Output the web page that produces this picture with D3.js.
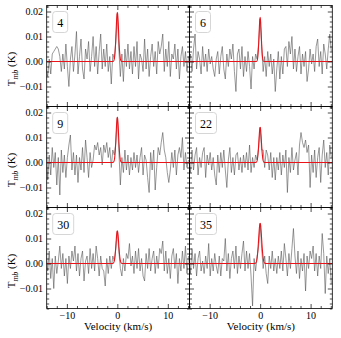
<!DOCTYPE html>
<html>
<head>
<meta charset="utf-8">
<script src="https://cdn.jsdelivr.net/npm/d3@7"></script>
<style>
  body { margin: 0; background: #fff; }
  svg text { font-family: "Liberation Serif", "Times New Roman", "DejaVu Serif", serif !important; fill: #000; }
</style>
</head>
<body>
<svg id="chart" width="341" height="338"></svg>
<script>
// panel labels (source numbers), in reading order
const panelLabels = ["4", "6", "9", "22", "30", "35"];

// gaussian fit parameters per panel (K, km/s)
const fitAmp = [0.0195, 0.0175, 0.018, 0.014, 0.013, 0.016];
const fitCenter = [0, 0, 0, 0, 0, 0];
const fitSigma = [0.25, 0.22, 0.25, 0.25, 0.27, 0.3];

// channel grid of the spectra (km/s)
const vStart = -14.1, vStep = 0.3;

// spectra in mK, 95 channels each (19 per row)
const spec4 = [
  -3, -6, 1, -5, 3, 4, 5, 6, 5, 2, -4, 3, -3, 7, -2, -10, 1, 6, -4,
  3, 12, -5, 2, 9, -3, -7, 5, 1, 8, -4, 2, 10, -2, 6, -5, 4, 11, -3,
  5, -2, 7, -4, 2, -9, 3, 1, 8, 19, 5, -6, 3, -8, 5, -2, 7, -3, 4,
  -5, 6, -2, 8, -7, 3, 1, -4, 9, -3, 5, -6, 2, 7, -2, 4, -5, 8, 3,
  6, 11, -4, 5, -2, 8, -6, 3, 1, 7, -3, 5, -7, 2, 6, -2, 4, -4, 2
];
const spec6 = [
  -2, 3, -4, 5, 11, -3, 4, 1, -5, 6, -2, 3, -4, 5, -1, 2, -3, -6, 1,
  4, -5, 2, 6, -3, -7, 3, -2, 5, 1, 7, -4, -12, 3, 5, -3, 6, -6, 2,
  -4, 4, -2, -11, 2, -3, 3, 1, 7, 17, 6, -4, 2, -6, 4, -2, 3, -5, 1,
  -12, -3, 4, -7, 2, -5, 5, 6, -2, 8, 3, 10, -3, 5, -4, 2, 6, -5, 3,
  -2, 4, -8, -3, 5, -1, 3, -4, 6, 9, -2, 4, -5, 7, 3, -3, 5, 11, 4
];
const spec9 = [
  9, -7, 3, -5, 6, -2, 4, -9, 2, -13, 5, -4, 3, -6, 2, 7, 11, -3, 4,
  -5, 3, -8, 2, -3, 6, -4, 9, 2, -6, 4, -2, 1, 7, 5, 8, 3, 6, -1,
  7, 4, 8, 2, 6, -2, 5, 3, 8, 18, 5, -9, 2, -4, 5, -3, 3, -5, 2,
  -3, 4, -2, 3, -4, 2, 6, -5, 3, 1, -6, -12, 4, -3, 5, -11, -2, 6, 3,
  8, 12, 5, 2, -4, -8, -3, 4, -2, 5, -5, 3, 6, 2, 10, -3, 4, -2, 1
];
const spec22 = [
  2, -4, 5, -3, 3, 6, -5, 2, -2, 4, 6, -6, 3, -1, 4, -3, 2, -5, -9,
  3, -4, 4, -2, 5, -3, -10, 1, 6, -4, 2, -5, 3, 4, -3, 2, -4, 3, -2,
  4, -3, 7, -4, 2, -2, 3, 1, 6, 14, 5, 5, -2, 5, 3, -3, 4, -6, 2,
  -7, 2, -3, 4, -5, 3, -2, 5, -12, 2, -4, 6, -3, 1, 4, -5, 7, 12, 8,
  6, 9, 4, 7, -10, 3, -4, 5, -6, 2, 6, -8, 3, 9, -2, 4, -5, 7, 2
];
const spec30 = [
  4, -3, 5, -6, 2, -10, 3, -4, 1, 7, -2, 4, -5, 2, -8, 3, -2, 5, 1,
  7, -3, 4, -5, 2, 5, -7, 1, 3, -4, 6, -2, 4, -3, 7, 2, -5, 3, -2,
  -3, -9, 2, -4, 3, -2, 3, 1, 6, 13, 5, -2, -5, 2, -3, 4, 2, 8, -1,
  3, -4, 5, -2, 6, -3, 2, -5, -7, 4, -2, 6, -3, 2, 5, -4, 3, -2, 6,
  4, 9, -3, 5, -4, 2, -6, 3, 6, -2, 4, -8, 2, -3, 5, -2, 7, -4, 3
];
const spec35 = [
  3, -4, 6, -2, 4, -5, 2, 5, -3, 1, -4, 3, -2, 8, -5, 2, -3, 4, -1,
  -4, 3, -5, 2, 1, 10, -3, 4, -6, 2, 5, -2, 7, -4, 3, -2, 4, 9, -3,
  5, -2, 4, -5, -17, 2, -3, 3, 7, 16, 6, -2, 3, -4, -8, 3, -2, 5, -3,
  2, -4, 3, -2, 5, -3, 8, 2, -5, 4, -2, 6, 14, 3, -4, 5, -6, 2, -3,
  4, -11, 3, -2, 5, 2, 7, -3, 4, -5, 3, -2, 12, 4, -12, 3, -4, 2, -8
];
const spectra = [spec4, spec6, spec9, spec22, spec30, spec35];

// axis ticks
const xTicks = [-10, 0, 10];
const xMinor = [-14, -12, -8, -6, -4, -2, 2, 4, 6, 8, 12, 14];
const yTicks = [-0.01, 0, 0.01, 0.02];
const yMinor = [-0.018, -0.016, -0.014, -0.012, -0.008, -0.006, -0.004, -0.002,
  0.002, 0.004, 0.006, 0.008, 0.012, 0.014, 0.016, 0.018, 0.022];

const FONT = '"Liberation Serif", "Times New Roman", "DejaVu Serif", serif';

const svg = d3.select("#chart"),
  margin = { top: 5.5, left: 46.7 },
  pw = 142.8,
  ph = 101;

const x = d3.scaleLinear().domain([-14, 14.3]).range([0, pw]);
const y = d3.scaleLinear().domain([-0.018, 0.0224]).range([ph, 0]);

const line = d3.line()
  .x(d => x(d[0]))
  .y(d => y(d[1]));

svg.append("defs").append("clipPath").attr("id", "clip")
  .append("rect").attr("width", pw).attr("height", ph);

const MAJ = 4.5, MIN = 2.5;

spectra.forEach((spec, k) => {
  const col = k % 2, row = Math.floor(k / 2);
  const g = svg.append("g")
    .attr("transform", "translate(" + (margin.left + col * pw) + "," + (margin.top + row * ph) + ")");

  const data = spec.map((t, i) => [vStart + i * vStep, t / 1000]);
  const fit = d3.range(-14.2, 14.4, 0.02).map(v =>
    [v, fitAmp[k] * Math.exp(-0.5 * Math.pow((v - fitCenter[k]) / fitSigma[k], 2))]);

  const plot = g.append("g").attr("clip-path", "url(#clip)");
  plot.append("path").datum(data)
    .attr("fill", "none").attr("stroke", "#555").attr("stroke-width", 0.6)
    .attr("d", line);
  plot.append("path").datum(fit)
    .attr("fill", "none").attr("stroke", "#e8141a").attr("stroke-width", 1.1)
    .attr("d", line);

  // inward ticks on all four sides
  const axes = [
    [d3.axisBottom, x, "translate(0," + ph + ")"],
    [d3.axisTop, x, "translate(0,0)"],
    [d3.axisLeft, y, "translate(0,0)"],
    [d3.axisRight, y, "translate(" + pw + ",0)"]
  ];
  axes.forEach(([ax, sc, tr]) => {
    const isX = sc === x;
    const showLabels = (ax === d3.axisBottom && row === 2) || (ax === d3.axisLeft && col === 0);
    const a = g.append("g").attr("transform", tr);
    a.call(ax(sc).tickValues(isX ? xMinor : yMinor).tickSize(-MIN).tickFormat(""));
    const b = g.append("g").attr("transform", tr);
    b.call(ax(sc).tickValues(isX ? xTicks : yTicks).tickSize(-MAJ)
      .tickPadding(isX ? 3 : 3.7)
      .tickFormat(showLabels ? (isX ? d3.format("d") : d3.format(".2f")) : ""));
    [a, b].forEach(s => {
      s.attr("font-family", FONT).attr("font-size", 10);
      s.select(".domain").remove();
      s.selectAll("line").attr("stroke", "#000").attr("stroke-width", 0.7);
      s.selectAll("text").attr("fill", "#000");
    });
  });

  g.append("rect")
    .attr("width", pw).attr("height", ph)
    .attr("fill", "none").attr("stroke", "#000").attr("stroke-width", 0.8);

  // label box
  const lab = g.append("g").attr("transform", "translate(6,6)");
  const box = lab.append("rect")
    .attr("height", 21).attr("rx", 3).attr("ry", 3)
    .attr("fill", "#fff").attr("stroke", "#ccc").attr("stroke-width", 0.8);
  const txt = lab.append("text")
    .attr("x", 4.5).attr("y", 15)
    .attr("font-family", FONT)
    .attr("font-size", 12)
    .text(panelLabels[k]);
  box.attr("width", txt.node().getComputedTextLength() + 9);

  if (col === 0) {
    const yl = svg.append("text")
      .attr("transform", "translate(15," + (margin.top + row * ph + 63.5) + ") rotate(-90)")
      .attr("text-anchor", "middle")
      .attr("font-family", FONT)
      .attr("font-size", 11);
    yl.append("tspan").text("T");
    yl.append("tspan").attr("dy", 2.5).attr("font-size", 8).attr("font-style", "italic").text("mb");
    yl.append("tspan").attr("dy", -2.5).text(" (K)");
  }
  if (row === 2) {
    svg.append("text")
      .attr("x", margin.left + col * pw + pw / 2)
      .attr("y", margin.top + 3 * ph + 21)
      .attr("text-anchor", "middle")
      .attr("font-family", FONT)
      .attr("font-size", 11)
      .text("Velocity (km/s)");
  }
});
</script>
</body>
</html>
